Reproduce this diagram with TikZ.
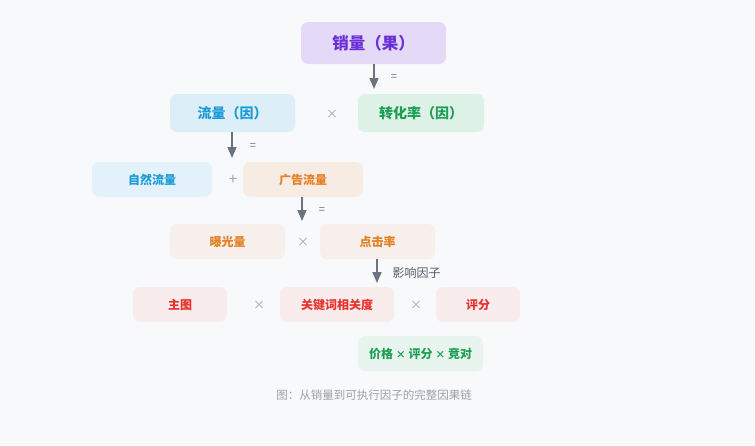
\documentclass[tikz,border=0pt]{standalone}
\usepackage{fontspec}
\setmainfont{Noto Sans CJK SC}
\newfontfamily\cjk{Noto Sans CJK SC}
\usetikzlibrary{arrows.meta}
\definecolor{bg}{HTML}{F8F9FB}
\definecolor{purfill}{HTML}{E4DAF7}
\definecolor{purtext}{HTML}{6B2FD8}
\definecolor{bluefill}{HTML}{DCEEF8}
\definecolor{bluefillb}{HTML}{E3F1FA}
\definecolor{bluetext}{HTML}{1A9BD8}
\definecolor{grnfill}{HTML}{DDF1E6}
\definecolor{grnfillb}{HTML}{E8F5EE}
\definecolor{grntext}{HTML}{1E9E55}
\definecolor{orgfill}{HTML}{F7ECE4}
\definecolor{orgfillb}{HTML}{F6EFEB}
\definecolor{orgtext}{HTML}{E67E22}
\definecolor{redfill}{HTML}{F8ECEC}
\definecolor{redtext}{HTML}{E8322F}
\definecolor{arrowc}{HTML}{6B7280}
\definecolor{optext}{HTML}{A0A4AC}
\definecolor{captext}{HTML}{9CA0A8}
\tikzset{
  box/.style={rounded corners=7pt, inner sep=0pt, font=\bfseries},
  flowarrow/.style={draw=arrowc, line width=1.6pt, -{Triangle[length=11pt,width=9pt]}},
  optxt/.style={text=optext, font=\fontsize{12}{14}\selectfont, inner sep=0pt},
  eqtxt/.style={text=arrowc, font=\fontsize{11}{13}\selectfont, inner sep=0pt},
}
\begin{document}
\begin{tikzpicture}[x=1pt,y=-1pt]
\fill[bg] (0,0) rectangle (755,445);
\useasboundingbox (0,0) rectangle (755,445);

% boxes
\node[box, fill=purfill, text=purtext, minimum width=145pt, minimum height=42pt, font=\bfseries\fontsize{16.5}{18}\selectfont] (sales) at (373.5,43) {销量（果）};
\node[box, fill=bluefill, text=bluetext, minimum width=125pt, minimum height=38pt, font=\bfseries\fontsize{14}{16}\selectfont] (flow) at (232.5,113) {流量（因）};
\node[box, fill=grnfill, text=grntext, minimum width=126pt, minimum height=38pt, font=\bfseries\fontsize{14}{16}\selectfont] (conv) at (421,113) {转化率（因）};
\node[box, fill=bluefillb, text=bluetext, minimum width=120pt, minimum height=35pt, font=\bfseries\fontsize{12}{14}\selectfont] (nat) at (152,179.5) {自然流量};
\node[box, fill=orgfill, text=orgtext, minimum width=120pt, minimum height=35pt, font=\bfseries\fontsize{12}{14}\selectfont] (ad) at (303,179.5) {广告流量};
\node[box, fill=orgfillb, text=orgtext, minimum width=115pt, minimum height=35pt, font=\bfseries\fontsize{12}{14}\selectfont] (exp) at (227.5,241.5) {曝光量};
\node[box, fill=orgfillb, text=orgtext, minimum width=115pt, minimum height=35pt, font=\bfseries\fontsize{12}{14}\selectfont] (ctr) at (377.5,241.5) {点击率};
\node[box, fill=redfill, text=redtext, minimum width=94pt, minimum height=35pt, font=\bfseries\fontsize{12}{14}\selectfont] (img) at (180,304.5) {主图};
\node[box, fill=redfill, text=redtext, minimum width=114pt, minimum height=35pt, font=\bfseries\fontsize{12}{14}\selectfont] (kw) at (337,304.5) {关键词相关度};
\node[box, fill=redfill, text=redtext, minimum width=84pt, minimum height=35pt, font=\bfseries\fontsize{12}{14}\selectfont] (rate) at (478,304.5) {评分};
\node[box, fill=grnfillb, text=grntext, minimum width=125pt, minimum height=35pt, font=\bfseries\fontsize{12}{14}\selectfont] (price) at (420.5,353.5) {价格 {\fontsize{10}{12}\selectfont×} 评分 {\fontsize{10}{12}\selectfont×} 竞对};

% operators
\node[optxt] (op1) at (332,114) {×};
\node[optxt, font=\fontsize{15}{16}\selectfont] (op2) at (233,180) {+};
\node[optxt] (op3) at (303,242) {×};
\node[optxt] (op4) at (259,305) {×};
\node[optxt] (op5) at (416,305) {×};

% arrows
\coordinate (e1) at (374,89);
\coordinate (e2) at (232,158);
\coordinate (e3) at (302,221);
\coordinate (e4) at (377,283);
\draw[flowarrow] (sales.south -| e1) -- (e1);
\draw[flowarrow] (flow.south -| e2) -- (e2);
\draw[flowarrow] (ad.south -| e3) -- (e3);
\draw[flowarrow] (ctr.south -| e4) -- (e4);
\node[eqtxt] (q1) at (394,78) {=};
\node[eqtxt] (q2) at (253,147) {=};
\node[eqtxt] (q3) at (322,211) {=};
\node[text=arrowc!80!black, font=\fontsize{12}{14}\selectfont, inner sep=0pt, anchor=west] (inf) at (392.5,273) {影响因子};

% caption
\node[text=captext, font=\fontsize{11.5}{13}\selectfont, inner sep=0pt] (cap) at (374,395) {图：从销量到可执行因子的完整因果链};
\end{tikzpicture}
\end{document}
